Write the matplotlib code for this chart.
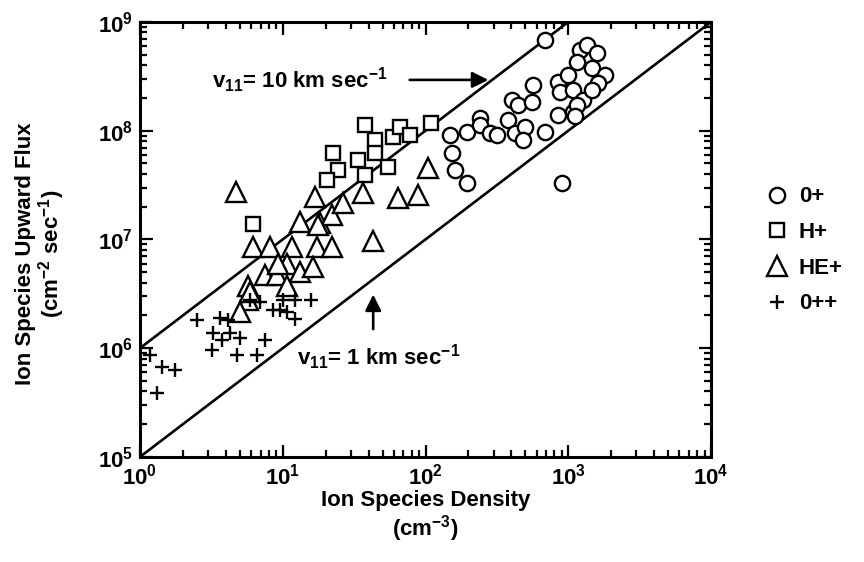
import matplotlib
matplotlib.use("Agg")
import matplotlib.pyplot as plt
import numpy as np
from matplotlib.ticker import LogLocator, NullFormatter

plt.rcParams.update({
    "font.family": ["Liberation Sans", "DejaVu Sans"],
    "font.weight": "bold",
    "axes.labelweight": "bold",
    "mathtext.fontset": "custom",
    "mathtext.rm": "Liberation Sans:bold",
    "mathtext.it": "Liberation Sans:bold",
    "mathtext.bf": "Liberation Sans:bold",
    "font.size": 16,
})

# ── Data (density cm^-3, upward flux cm^-2 s^-1) ───────────────────────────
o_plus_n = [687, 148, 153, 161, 194, 194, 241, 241, 283, 315, 380, 402, 447,
            554, 569, 420, 498, 485, 687, 900, 852, 852, 875, 1000, 1085, 1085,
            1274, 1146, 1208, 1346, 1582, 1146, 1459, 1808, 1625, 1459, 1110]
o_plus_flux = [6.8e8, 9.1e7, 6.2e7, 4.36e7, 3.3e7, 9.8e7, 1.3e8, 1.13e8, 9.5e7,
               9.1e7, 1.26e8, 1.92e8, 1.73e8, 1.85e8, 2.64e8, 9.5e7, 1.09e8,
               8.2e7, 9.8e7, 3.3e7, 1.4e8, 2.82e8, 2.29e8, 3.26e8, 2.37e8,
               1.5e8, 1.92e8, 1.73e8, 5.5e8, 6.1e8, 5.2e8, 4.3e8, 3.75e8,
               3.26e8, 2.73e8, 2.37e8, 1.35e8]

h_plus_n = [6.15, 37.7, 22.6, 24.5, 20.3, 33.8, 37.7, 44.3, 44.3, 54.9, 59.5,
            66.3, 77.9, 110]
h_plus_flux = [1.4e7, 1.13e8, 6.2e7, 4.36e7, 3.52e7, 5.4e7, 3.9e7, 8.2e7,
               6.2e7, 4.67e7, 8.8e7, 1.09e8, 9.1e7, 1.17e8]

he_plus_n = [4.7, 6.15, 8.2, 11.6, 17.3, 22.0, 13.2, 18.2, 16.8, 22.0, 10.7,
             13.2, 16.4, 7.5, 9.1, 10.7, 5.7, 5.7, 5.0, 104, 64.5, 89, 36.7,
             26.6, 17.7, 43, 5.9, 9.3]
he_plus_flux = [2.75e7, 8.6e6, 8.6e6, 8.6e6, 8.6e6, 8.6e6, 1.46e7, 1.41e7,
                2.48e7, 1.68e7, 6.0e6, 5.06e6, 5.6e6, 4.7e6, 4.7e6, 3.7e6,
                3.7e6, 2.78e6, 2.17e6, 4.5e7, 2.4e7, 2.56e7, 2.66e7, 2.15e7,
                1.36e7, 9.7e6, 3.3e6, 6.0e6]

o_pp_n = [2.5, 3.63, 4.16, 3.26, 3.73, 4.27, 5.0, 3.18, 4.76, 6.56, 7.5, 6.9,
          8.6, 9.6, 10.7, 12.2, 10.1, 12.2, 15.9, 5.9, 1.17, 1.42, 1.76, 1.31]
o_pp_flux = [1.82e6, 1.88e6, 1.82e6, 1.37e6, 1.19e6, 1.37e6, 1.23e6, 9.6e5,
             8.7e5, 8.7e5, 1.19e6, 2.68e6, 2.25e6, 2.25e6, 2.17e6, 1.87e6,
             2.78e6, 2.78e6, 2.78e6, 2.78e6, 8.7e5, 6.76e5, 6.3e5, 3.86e5]

# Reference upward velocities (km/s); flux = n * v
velocities_kms = [10, 1]
density_span = np.array([1.0, 1.0e4])

fig = plt.figure(figsize=(8.64, 5.62), dpi=100)
ax = fig.add_axes([0.162, 0.187, 0.661, 0.774])

for v in velocities_kms:
    ax.plot(density_span, density_span * v * 1e5, color="black", lw=1.9,
            zorder=1)

ms_kw = dict(linestyle="none", markerfacecolor="white",
             markeredgecolor="black", markeredgewidth=1.7)
ax.plot(o_plus_n, o_plus_flux, marker="o", markersize=11, label="0+",
        zorder=3, **ms_kw)
ax.plot(h_plus_n, h_plus_flux, marker="s", markersize=10.5, label="H+",
        zorder=3, **ms_kw)
ax.plot(he_plus_n, he_plus_flux, marker="^", markersize=14, label="HE+",
        zorder=3, **ms_kw)
ax.plot(o_pp_n, o_pp_flux, marker="+", markersize=10, color="black",
        markeredgewidth=1.7, linestyle="none", label="0++", zorder=3)

ax.set_xscale("log")
ax.set_yscale("log")
ax.set_xlim(1, 1e4)
ax.set_ylim(1e5, 1e9)

for axis in (ax.xaxis, ax.yaxis):
    axis.set_major_locator(LogLocator(base=10, numticks=10))
    axis.set_minor_locator(LogLocator(base=10, subs=np.arange(2, 10), numticks=10))
    axis.set_minor_formatter(NullFormatter())

ax.tick_params(which="both", direction="in", top=True, right=True,
               width=1.6, labelsize=16)
ax.tick_params(which="major", length=9, pad=5)
ax.tick_params(which="minor", length=5)
for s in ax.spines.values():
    s.set_linewidth(2.2)

ax.set_xlabel("Ion Species Density\n(cm$^{-3}$)", fontsize=16, labelpad=0,
              linespacing=1.1)
ax.set_ylabel("Ion Species Upward Flux\n(cm$^{-2}$ sec$^{-1}$)", fontsize=16,
              linespacing=1.0)
ax.yaxis.set_label_coords(-0.128, 0.467)

# Velocity labels with arrows pointing at their lines
ax.annotate("", xy=(288, 2.93e8), xytext=(74, 2.93e8),
            arrowprops=dict(arrowstyle="-|>", color="black", lw=1.9,
                            mutation_scale=24))
ax.text(3.2, 2.93e8, "v$_{11}$= 10 km sec$^{-1}$", fontsize=16, va="center")
ax.annotate("", xy=(43, 3.3e6), xytext=(43, 1.41e6),
            arrowprops=dict(arrowstyle="-|>", color="black", lw=1.9,
                            mutation_scale=24))
ax.text(12.6, 8.3e5, "v$_{11}$= 1 km sec$^{-1}$", fontsize=16, va="center")

ax.legend(loc="center left", bbox_to_anchor=(1.08, 0.475), frameon=False,
          handlelength=1.0, handletextpad=0.5, labelspacing=0.66, fontsize=16,
          borderaxespad=0)

fig.savefig("out.png", dpi=100)
